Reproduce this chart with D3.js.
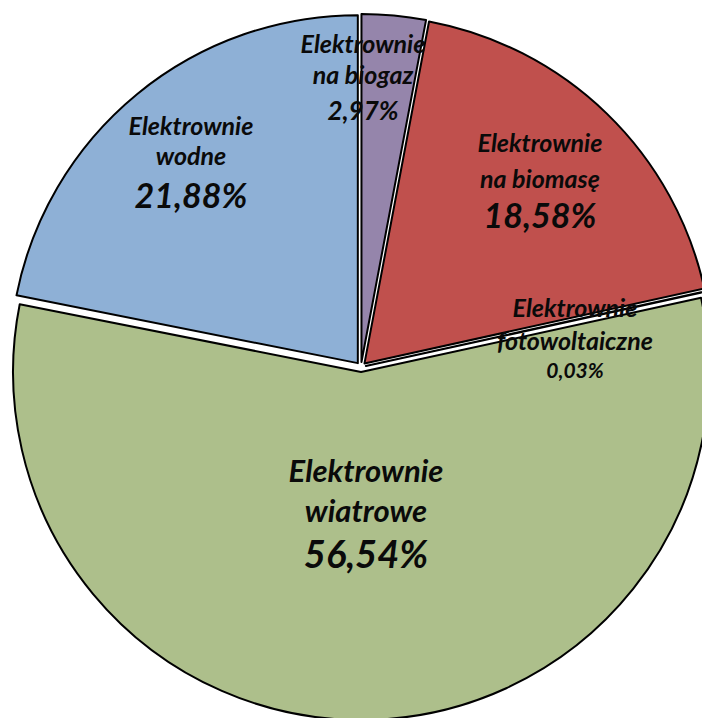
<!DOCTYPE html>
<html>
<head>
<meta charset="utf-8">
<script src="https://cdn.jsdelivr.net/npm/d3@7/dist/d3.min.js"></script>
<style>
  body { margin: 0; background: #fff; }
  svg text { font-family: Lato, "Open Sans", sans-serif; font-weight: bold; font-style: italic; fill: #0a0a0a; }
</style>
</head>
<body>
<script>
// data
var categories = ["Elektrownie na biogaz", "Elektrownie na biomasę", "Elektrownie fotowoltaiczne", "Elektrownie wiatrowe", "Elektrownie wodne"];
var shares = [2.97, 18.58, 0.03, 56.54, 21.88];
var nameLines = [["Elektrownie", "na biogaz"], ["Elektrownie", "na biomasę"], ["Elektrownie", "fotowoltaiczne"], ["Elektrownie", "wiatrowe"], ["Elektrownie", "wodne"]];
var percentLabels = ["2,97%", "18,58%", "0,03%", "56,54%", "21,88%"];
var colors = ["#9585ab", "#c0504d", "#4bacc6", "#adbf8b", "#8eb0d6"];

// label layout (centre x, first baseline, line gaps, font sizes)
var labelLayout = [
  {x: 363, y: 53, gap1: 31, gap2: 36, size: 25, pct: 26},
  {x: 540, y: 152, gap1: 36, gap2: 40, size: 25, pct: 34},
  {x: 575, y: 317, gap1: 33, gap2: 28, size: 25, pct: 21},
  {x: 366, y: 482, gap1: 40, gap2: 46, size: 31, pct: 38},
  {x: 191, y: 135, gap1: 30, gap2: 43, size: 25, pct: 34}
];

var W = 702, H = 718;
var cx = 361, cy = 367, R = 348, explode = 5;

var svg = d3.select("body").append("svg")
    .attr("width", W)
    .attr("height", H);

var pie = d3.pie().sort(null).value(function(d) { return d; });
var arc = d3.arc().innerRadius(0).outerRadius(R);
var arcs = pie(shares);

var g = svg.append("g").attr("transform", "translate(" + cx + "," + cy + ")");

g.selectAll("path")
    .data(arcs)
    .enter()
    .append("path")
    .attr("d", arc)
    .attr("transform", function(d) {
        var a = (d.startAngle + d.endAngle) / 2;
        return "translate(" + (Math.sin(a) * explode) + "," + (-Math.cos(a) * explode) + ")";
    })
    .style("fill", function(d, i) { return colors[i]; })
    .style("stroke", "#000")
    .style("stroke-width", 2)
    .style("stroke-linejoin", "round");

var labels = svg.selectAll("g.lbl")
    .data(arcs)
    .enter()
    .append("g")
    .attr("class", "lbl");

labels.each(function(d, i) {
    var L = labelLayout[i];
    var t = d3.select(this).append("text").attr("text-anchor", "middle");
    t.append("tspan").attr("x", L.x).attr("y", L.y).style("font-size", L.size + "px").text(nameLines[i][0]);
    t.append("tspan").attr("x", L.x).attr("y", L.y + L.gap1).style("font-size", L.size + "px").text(nameLines[i][1]);
    t.append("tspan").attr("x", L.x).attr("y", L.y + L.gap1 + L.gap2).style("font-size", L.pct + "px").text(percentLabels[i]);
});
</script>
</body>
</html>
